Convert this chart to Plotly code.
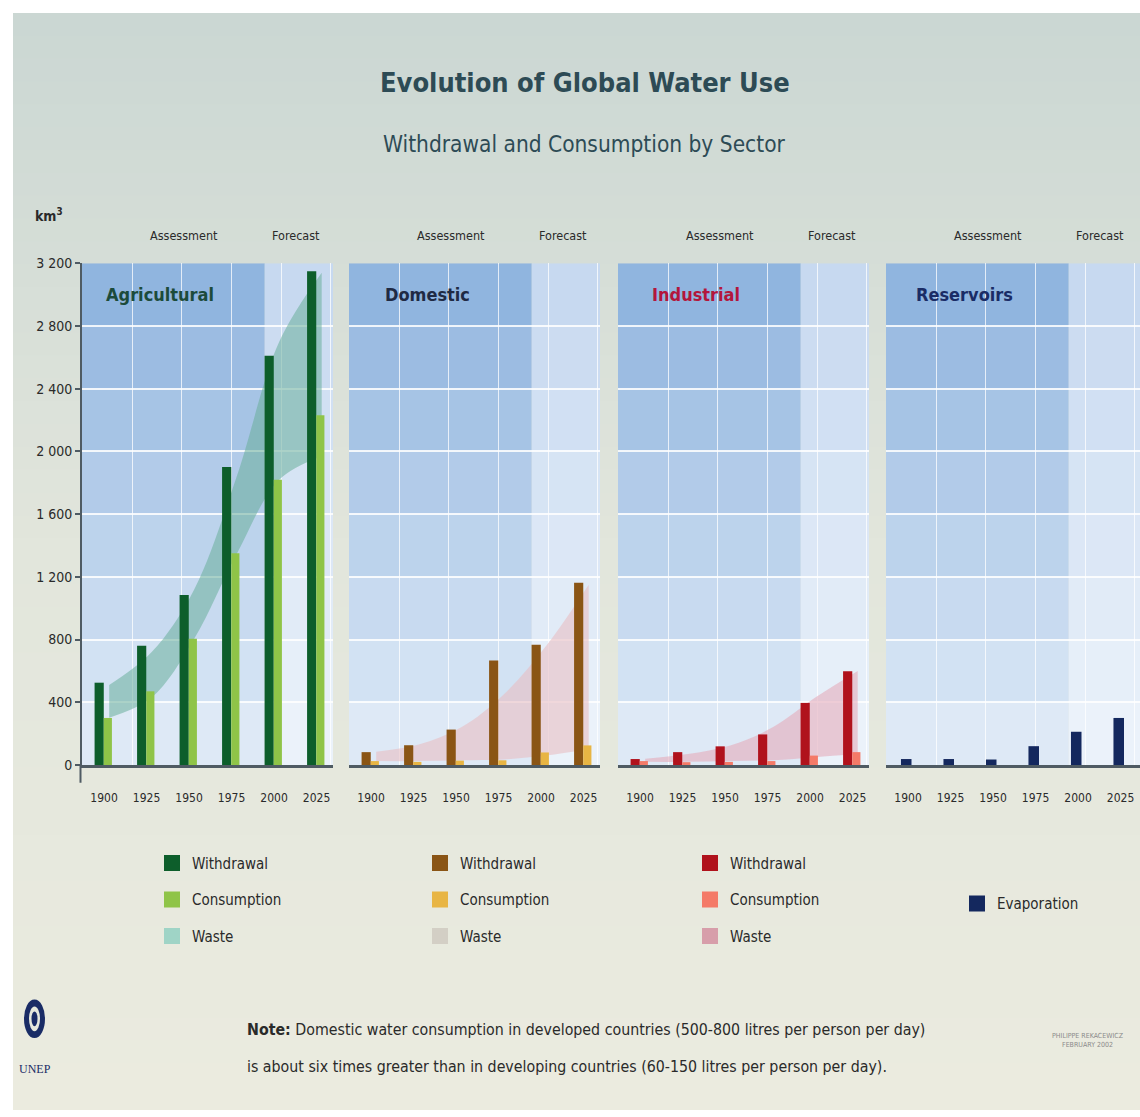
import plotly.graph_objects as go

# ---------------- data ----------------
years = [1900, 1925, 1950, 1975, 2000, 2025]
year_labels = ["1900", "1925", "1950", "1975", "2000", "2025"]
y_ticks = [0, 400, 800, 1200, 1600, 2000, 2400, 2800, 3200]
y_tick_labels = ["0", "400", "800", "1 200", "1 600", "2 000", "2 400", "2 800", "3 200"]

agr_withdrawal = [525, 760, 1085, 1900, 2610, 3150]
agr_consumption = [300, 470, 805, 1350, 1820, 2230]
agr_waste_upper = [510, 720, 1120, 1840, 2700, 3140]
agr_waste_lower = [302, 430, 805, 1345, 1820, 1970]

dom_withdrawal = [82, 126, 226, 667, 767, 1163]
dom_consumption = [25, 20, 28, 30, 80, 125]
dom_waste_upper = [85, 130, 240, 450, 760, 1150]
dom_waste_lower = [25, 25, 30, 35, 60, 100]

ind_withdrawal = [38, 82, 119, 195, 396, 598]
ind_consumption = [25, 18, 20, 25, 60, 82]
ind_waste_upper = [40, 70, 125, 240, 430, 600]
ind_waste_lower = [20, 20, 25, 30, 50, 70]

res_evaporation = [38, 38, 35, 120, 212, 300]

sector_names = ["Agricultural", "Domestic", "Industrial", "Reservoirs"]

# ---------------- styling ----------------
W, H = 1140, 1117
FONT = "Liberation Sans Narrow, Arial Narrow, DejaVu Sans Condensed, sans-serif"
TXT = "#2a2a2a"


def px(x):
    return x / W


def py(y):
    return 1 - y / H


PX_PER_YEAR = 1.70
X_START = 1887
ASSESS_END = 1994.5
Y0_PX, Y1_PX = 768, 259

panels = [
    dict(title="Agricultural", tcolor="#1c4b3b", dom=(82, 333),
         w=agr_withdrawal, c=agr_consumption, up=agr_waste_upper, lo=agr_waste_lower,
         wcol="#0d5e2b", ccol="#8fc448", band="rgba(105,175,155,0.55)", wleg="#9fd4c6"),
    dict(title="Domestic", tcolor="#1f2a44", dom=(349, 600),
         w=dom_withdrawal, c=dom_consumption, up=dom_waste_upper, lo=dom_waste_lower,
         wcol="#8a5515", ccol="#e8b544", band="rgba(232,190,195,0.6)", wleg="#d3cfc5"),
    dict(title="Industrial", tcolor="#b3163c", dom=(618, 869),
         w=ind_withdrawal, c=ind_consumption, up=ind_waste_upper, lo=ind_waste_lower,
         wcol="#b0121c", ccol="#f47a68", band="rgba(228,172,186,0.6)", wleg="#d79eaa"),
    dict(title="Reservoirs", tcolor="#1a2c66", dom=(886, 1140),
         w=res_evaporation, c=None, up=None, lo=None,
         wcol="#14285e", ccol=None, band=None, wleg=None),
]

fig = go.Figure()
shapes = []
annotations = []


def lerp(a, b, t):
    return tuple(round(a[i] + (b[i] - a[i]) * t) for i in range(3))


def rgb(c):
    return "rgb(%d,%d,%d)" % c


# page background (white border + vertical gradient)
n_strips = 48
top_c, mid_c, bot_c = (203, 215, 211), (226, 230, 220), (235, 235, 223)
for i in range(n_strips):
    y0 = 5 + (H - 5) * i / n_strips
    y1 = 5 + (H - 5) * (i + 1) / n_strips + 1
    t = i / (n_strips - 1)
    col = lerp(top_c, mid_c, t * 2) if t < 0.5 else lerp(mid_c, bot_c, (t - 0.5) * 2)
    shapes.append(dict(type="rect", xref="paper", yref="paper", layer="below",
                       x0=px(13), x1=1, y0=py(y1), y1=py(y0),
                       fillcolor=rgb(col), line=dict(width=0)))

assess_top, assess_bot = (139, 177, 221), (227, 237, 248)
fore_top, fore_bot = (196, 215, 239), (238, 244, 251)

layout_axes = {}
for k, p in enumerate(panels):
    n = k + 1
    m = n + 4  # overlay axes for bars (drawn above the waste band)
    xa = "x" if n == 1 else "x%d" % n
    ya = "y" if n == 1 else "y%d" % n
    xo, yo = "x%d" % m, "y%d" % m
    xkey = "xaxis" if n == 1 else "xaxis%d" % n
    ykey = "yaxis" if n == 1 else "yaxis%d" % n
    x0p, x1p = p["dom"]
    xr = [X_START, X_START + (x1p - x0p) / PX_PER_YEAR]

    layout_axes[xkey] = dict(
        domain=[px(x0p), px(x1p)], range=xr, anchor=ya,
        tickmode="array", tickvals=years, ticktext=year_labels,
        showgrid=False, zeroline=False, ticks="", ticklabelstandoff=20,
        showline=True, linecolor="#4f5b63", linewidth=3,
        tickfont=dict(family=FONT, size=12, color=TXT),
        minor=dict(tick0=1916.5, dtick=29.2, showgrid=True,
                   gridcolor="rgba(255,255,255,0.75)", gridwidth=1, ticks=""),
        fixedrange=True,
    )
    ydict = dict(
        domain=[py(Y0_PX), py(Y1_PX)], range=[0, 3200], anchor=xa,
        tickmode="array", tickvals=y_ticks, ticktext=y_tick_labels,
        showgrid=True, gridcolor="rgba(255,255,255,0.85)", gridwidth=1.5,
        zeroline=False, fixedrange=True,
    )
    if n == 1:
        ydict.update(showline=True, linecolor="#4f5b63", linewidth=2,
                     ticks="outside", ticklen=5, tickwidth=2, tickcolor="#4f5b63",
                     tickfont=dict(family=FONT, size=14, color=TXT))
    else:
        ydict.update(showticklabels=False, showline=False, ticks="")
    layout_axes[ykey] = ydict
    layout_axes["xaxis%d" % m] = dict(overlaying=xa, range=xr, anchor=yo, visible=False,
                                      fixedrange=True)
    layout_axes["yaxis%d" % m] = dict(overlaying=ya, range=[0, 3200], anchor=xo,
                                      visible=False, fixedrange=True)

    # banded blue panel background
    for b in range(8):
        t = (b + 0.5) / 8
        shapes.append(dict(type="rect", xref=xa, yref=ya, layer="below",
                           x0=xr[0], x1=ASSESS_END, y0=b * 400, y1=(b + 1) * 400,
                           fillcolor=rgb(lerp(assess_bot, assess_top, t)), line=dict(width=0)))
        shapes.append(dict(type="rect", xref=xa, yref=ya, layer="below",
                           x0=ASSESS_END, x1=xr[1], y0=b * 400, y1=(b + 1) * 400,
                           fillcolor=rgb(lerp(fore_bot, fore_top, t)), line=dict(width=0)))

    # waste band
    if p["up"] is not None:
        bx = [yr + 3 for yr in years]
        fig.add_trace(go.Scatter(x=bx, y=p["lo"], mode="lines",
                                 line=dict(width=0, shape="spline", smoothing=1),
                                 xaxis=xa, yaxis=ya, showlegend=False, hoverinfo="skip"))
        fig.add_trace(go.Scatter(x=bx, y=p["up"], mode="lines", fill="tonexty",
                                 fillcolor=p["band"],
                                 line=dict(width=0, shape="spline", smoothing=1),
                                 xaxis=xa, yaxis=ya, showlegend=False,
                                 name=p["title"] + " waste"))

    # bars
    if p["c"] is not None:
        fig.add_trace(go.Bar(x=years, y=p["w"], width=5.4, offset=-5.6,
                             marker=dict(color=p["wcol"], line=dict(width=0)),
                             xaxis=xo, yaxis=yo, showlegend=False,
                             name=p["title"] + " withdrawal"))
        fig.add_trace(go.Bar(x=years, y=p["c"], width=4.8, offset=-0.2,
                             marker=dict(color=p["ccol"], line=dict(width=0)),
                             xaxis=xo, yaxis=yo, showlegend=False,
                             name=p["title"] + " consumption"))
    else:
        fig.add_trace(go.Bar(x=years, y=p["w"], width=6.2, offset=-4.2,
                             marker=dict(color=p["wcol"], line=dict(width=0)),
                             xaxis=xo, yaxis=yo, showlegend=False,
                             name="Evaporation"))

    # panel title & header labels
    annotations.append(dict(text="<b>%s</b>" % p["title"], xref=xa, yref=ya,
                            x=1933, y=3000, xanchor="center", yanchor="middle",
                            showarrow=False,
                            font=dict(family=FONT, size=18, color=p["tcolor"])))
    annotations.append(dict(text="Assessment", xref=xa, yref="paper", x=1947, y=py(231),
                            xanchor="center", yanchor="middle", showarrow=False,
                            font=dict(family=FONT, size=12.5, color=TXT)))
    annotations.append(dict(text="Forecast", xref=xa, yref="paper", x=2013, y=py(231),
                            xanchor="center", yanchor="middle", showarrow=False,
                            font=dict(family=FONT, size=12.5, color=TXT)))

    # legend entries
    leg = "legend" if n == 1 else "legend%d" % n
    if p["c"] is not None:
        entries = [("Withdrawal", p["wcol"]), ("Consumption", p["ccol"]), ("Waste", p["wleg"])]
    else:
        entries = [("Evaporation", p["wcol"])]
    for j, (nm, col) in enumerate(entries):
        fig.add_trace(go.Scatter(x=[None], y=[None], mode="markers", name=nm,
                                 marker=dict(symbol="square", size=20, color=col),
                                 xaxis=xa, yaxis=ya, legend=leg,
                                 legendgroup="%s_%d" % (leg, j), showlegend=True))

legend_common = dict(bgcolor="rgba(0,0,0,0)", borderwidth=0, xanchor="left", yanchor="top",
                     font=dict(family=FONT, size=15, color=TXT), itemsizing="trace",
                     tracegroupgap=14, orientation="v")
legends = {
    "legend": dict(x=px(152), y=py(851), **legend_common),
    "legend2": dict(x=px(420), y=py(851), **legend_common),
    "legend3": dict(x=px(690), y=py(851), **legend_common),
    "legend4": dict(x=px(957), y=py(892), **legend_common),
}

# y-axis line continues a little below zero, as in the original
shapes.append(dict(type="line", xref="paper", yref="paper", layer="above",
                   x0=px(80.5), x1=px(80.5), y0=py(768), y1=py(786),
                   line=dict(color="#4f5b63", width=2)))

# titles and notes
annotations += [
    dict(text="<b>Evolution of Global Water Use</b>", xref="paper", yref="paper",
         x=px(585), y=py(76), xanchor="center", yanchor="middle", showarrow=False,
         font=dict(family=FONT, size=27, color="#2d4b55")),
    dict(text="Withdrawal and Consumption by Sector", xref="paper", yref="paper",
         x=px(584), y=py(138), xanchor="center", yanchor="middle", showarrow=False,
         font=dict(family=FONT, size=22.5, color="#2d4b55")),
    dict(text="<b>km<sup>3</sup></b>", xref="paper", yref="paper",
         x=px(33), y=py(210), xanchor="left", yanchor="middle", showarrow=False,
         font=dict(family=FONT, size=14, color=TXT)),
    dict(text="<b>Note:</b> Domestic water consumption in developed countries (500-800 litres per person per day)",
         xref="paper", yref="paper", x=px(245), y=py(1036), xanchor="left", yanchor="middle",
         showarrow=False, font=dict(family=FONT, size=15.8, color=TXT)),
    dict(text="is about six times greater than in developing countries (60-150 litres per person per day).",
         xref="paper", yref="paper", x=px(245), y=py(1074), xanchor="left", yanchor="middle",
         showarrow=False, font=dict(family=FONT, size=15.8, color=TXT)),
    dict(text="UNEP", xref="paper", yref="paper", x=px(35), y=py(1076),
         xanchor="center", yanchor="middle", showarrow=False,
         font=dict(family="Liberation Serif, serif", size=12, color="#1a2c66")),
    dict(text="PHILIPPE REKACEWICZ<br>FEBRUARY 2002", xref="paper", yref="paper",
         x=px(1050), y=py(1048), xanchor="left", yanchor="middle", showarrow=False,
         font=dict(family=FONT, size=7, color="#8a8a8a")),
]

# UNEP emblem
shapes.append(dict(type="circle", xref="paper", yref="paper", layer="above",
                   x0=px(25), x1=px(44), y0=py(1044), y1=py(1007),
                   fillcolor="#1a2c66", line=dict(color="#1a2c66", width=2)))
shapes.append(dict(type="circle", xref="paper", yref="paper", layer="above",
                   x0=px(29), x1=px(40), y0=py(1038), y1=py(1013),
                   fillcolor="#e6e8dc", line=dict(width=0)))
shapes.append(dict(type="circle", xref="paper", yref="paper", layer="above",
                   x0=px(31.5), x1=px(37.5), y0=py(1033), y1=py(1018),
                   fillcolor="#1a2c66", line=dict(width=0)))

fig.update_layout(
    width=W, height=H, margin=dict(l=0, r=0, t=0, b=0),
    paper_bgcolor="white", plot_bgcolor="rgba(0,0,0,0)",
    barmode="overlay", shapes=shapes, annotations=annotations,
    font=dict(family=FONT, color=TXT), hovermode=False,
    **layout_axes, **legends,
)

fig.write_html("out.html")
